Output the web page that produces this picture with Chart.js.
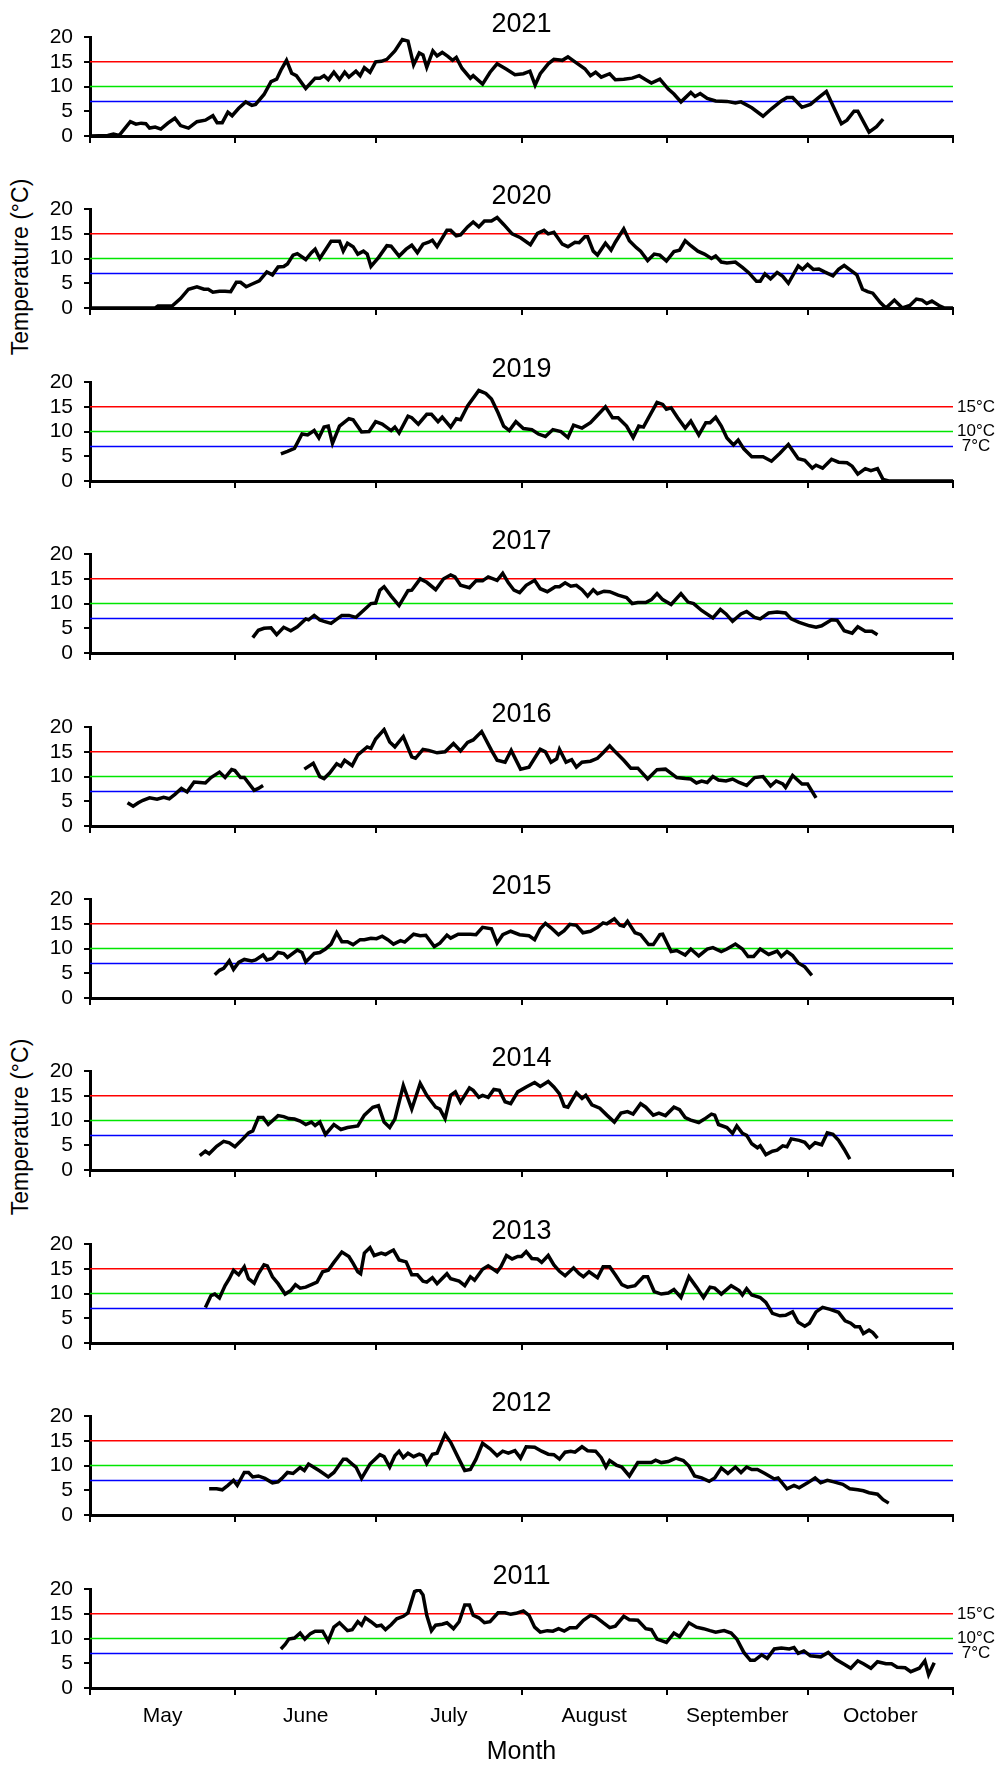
<!DOCTYPE html>
<html>
<head>
<meta charset="utf-8">
<script src="https://cdn.jsdelivr.net/npm/chart.js@4"></script>
<style>
  body { margin: 0; background: #fff; }
  #wrap { position: relative; width: 1000px; height: 1767px; overflow: hidden; font-family: "Liberation Sans", Arial, sans-serif; }
  #wrap canvas { position: absolute; left: 0; }
  .ylab { position: absolute; left: 20px; width: 0; height: 0; }
  .ylab span { position: absolute; transform: translate(-50%, -50%) rotate(-90deg); white-space: nowrap; font-size: 23px; color: #000; }
</style>
</head>
<body>
<div id="wrap">
  <div class="ylab" style="top:267px"><span>Temperature (°C)</span></div>
  <div class="ylab" style="top:1127px"><span>Temperature (°C)</span></div>
</div>
<script>
// daily water temperature, [days since 1 May, °C]
const y2021 = [[0,0],[3.8,0.1],[5,0.4],[6.2,0.1],[8.6,2.9],[9.8,2.4],[10.9,2.6],[11.9,2.5],[12.7,1.6],[13.9,1.8],[15.1,1.4],[16.6,2.6],[18.1,3.6],[19.3,2.1],[21,1.6],[22.8,2.9],[24.6,3.2],[26.2,4.1],[27.1,2.7],[28.2,2.7],[29.4,4.8],[30.3,4.1],[31.7,5.6],[33.2,6.9],[34.5,6.2],[35.3,6.4],[37.1,8.4],[38.6,11.0],[39.8,11.5],[40.7,13.3],[41.9,15.3],[43,12.7],[44,12.2],[46,9.6],[48,11.7],[49,11.7],[49.9,12.2],[50.8,11.4],[52,12.9],[53.2,11.4],[54.3,12.9],[55.2,11.9],[56.7,13.1],[57.6,12.2],[58.5,13.8],[59.7,12.9],[60.9,15.0],[62.1,15.1],[63.3,15.5],[65,17.2],[66.6,19.5],[67.8,19.2],[69,14.4],[70.2,16.8],[71,16.4],[71.8,13.9],[73.1,17.2],[74,16.2],[75.1,16.9],[76.3,16.1],[77.3,15.3],[78.1,15.9],[79.3,13.7],[81.1,11.7],[81.7,12.2],[83.7,10.5],[85.3,12.9],[86.8,14.6],[88.8,13.5],[90.6,12.4],[92.4,12.6],[93.8,13.1],[94.9,10.3],[96,12.6],[97.7,14.6],[98.9,15.5],[100.7,15.3],[101.9,16.0],[103.7,14.8],[105.5,13.6],[106.7,12.2],[107.8,12.9],[109,11.9],[110.8,12.6],[112,11.4],[113.8,11.5],[115.6,11.7],[117.1,12.2],[118.5,11.4],[119.7,10.7],[121.5,11.5],[123.3,9.5],[124.5,8.5],[126,6.9],[128.1,8.8],[129,8.0],[130.1,8.6],[131.6,7.6],[133.4,7.1],[135.8,7.0],[137.6,6.7],[138.8,6.9],[141.1,5.7],[143.5,4.0],[145.3,5.5],[147.4,7.1],[148.6,7.8],[149.8,7.8],[151.8,5.8],[153.6,6.4],[155.4,7.8],[157,9.0],[158.6,5.7],[160.2,2.5],[161.4,3.2],[162.9,5.0],[163.7,5.0],[166.1,0.8],[167.7,1.9],[169.1,3.4]];
const y2020 = [[0,0],[13.9,0],[14.5,0.4],[17.5,0.4],[19.3,1.9],[21,3.8],[22.8,4.3],[24.3,3.8],[25.2,3.8],[26.2,3.2],[27.6,3.4],[28.8,3.4],[30,3.3],[31.2,5.2],[32.1,5.2],[33.3,4.3],[34.7,4.9],[36.1,5.5],[37.7,7.3],[38.9,6.7],[40.1,8.3],[41.3,8.4],[42.1,8.9],[43.3,10.7],[44.2,11.0],[46,9.8],[47.2,11.2],[48,11.9],[49,10.0],[51.4,13.5],[53.2,13.5],[54,11.5],[54.9,13.1],[56.1,12.4],[57.1,10.9],[58.3,11.5],[59.1,10.9],[59.9,8.4],[61.5,10.2],[63.3,12.6],[64.2,12.5],[65.9,10.5],[67.4,11.9],[68.6,12.7],[69.8,11.2],[71,12.9],[72.2,13.3],[73,13.7],[74,12.4],[76.1,15.7],[76.9,15.7],[78.1,14.6],[79,14.8],[80.5,16.4],[81.7,17.4],[82.9,16.4],[84.1,17.6],[85.6,17.6],[86.8,18.3],[88.2,16.9],[90,15.0],[91.8,14.2],[93.9,12.8],[95.4,15.1],[96.8,15.7],[97.7,15.0],[98.9,15.3],[100.7,12.9],[101.9,12.4],[103.4,13.3],[104.3,13.2],[105.5,14.4],[106.1,14.4],[107.3,11.5],[108.2,10.7],[109.9,13.1],[111.1,11.7],[112,13.3],[113.8,16.0],[115,13.6],[116.5,12.2],[117.4,11.5],[118.9,9.6],[120.3,10.9],[121.5,10.7],[122.9,9.5],[124.5,11.4],[125.7,11.7],[126.9,13.6],[128.1,12.6],[129.6,11.5],[131,10.9],[132.5,10.0],[133.4,10.5],[134.6,9.3],[135.8,9.1],[137.6,9.3],[139.1,8.2],[140.5,7.1],[142.1,5.4],[142.9,5.4],[143.9,6.9],[145.1,5.9],[146.5,7.2],[147.7,6.4],[148.9,5.0],[151,8.5],[151.9,7.8],[153,8.8],[154.2,7.8],[155.4,7.9],[156.6,7.3],[158.4,6.5],[159.6,7.8],[160.8,8.6],[162.2,7.6],[163.5,6.7],[164.7,3.8],[165.8,3.3],[166.9,3.0],[168.5,1.1],[169.7,0],[171.5,1.6],[173.2,0],[174.8,0.5],[176.2,1.8],[177.4,1.6],[178.4,0.9],[179.5,1.4],[181,0.5],[182.2,0],[184,0]];
const y2019 = [[40.7,5.5],[42.1,6.0],[43.6,6.6],[45.2,9.5],[46.4,9.3],[47.8,10.2],[48.8,8.7],[49.9,10.9],[50.8,11.1],[51.7,7.6],[53.2,11.1],[55.2,12.6],[56.1,12.4],[57.9,9.9],[59.5,10.0],[60.9,12.0],[62.3,11.5],[64.2,10.2],[65,10.9],[65.9,9.7],[67.8,13.1],[68.6,12.8],[70,11.5],[71.8,13.5],[72.8,13.5],[74.2,12.0],[75.1,12.9],[76.9,10.9],[78.1,12.6],[79,12.4],[80.5,15.2],[82.9,18.3],[84.4,17.7],[85.6,16.6],[87,13.8],[88.2,11.1],[89.4,10.2],[90.8,12.0],[92.4,10.6],[94.2,10.4],[95.6,9.5],[97.1,9.0],[98.7,10.4],[100.4,10.0],[101.9,8.8],[103.1,11.3],[104.9,10.7],[106.7,11.8],[108.4,13.5],[109.9,15.0],[111.4,12.8],[112.6,12.8],[114.4,11.1],[115.8,8.8],[117,11.1],[118,10.9],[119.1,12.8],[120.9,15.9],[122.1,15.5],[122.9,14.5],[123.9,14.8],[125.3,12.8],[126.9,10.7],[128.1,12.1],[129.8,9.3],[131.3,11.8],[132.2,11.8],[133.4,12.9],[134.6,11.1],[135.8,8.7],[137.2,7.3],[138.2,8.3],[139.4,6.5],[141.1,4.9],[143.5,4.9],[145.3,4.0],[147.1,5.6],[148.9,7.4],[151,4.5],[152.4,4.2],[154,2.6],[154.8,3.2],[156.2,2.6],[158.1,4.4],[159.6,3.8],[161.4,3.7],[162.5,3.0],[163.7,1.4],[165.3,2.5],[166.5,2.1],[167.9,2.5],[169.1,0.3],[170.3,0],[184,0]];
const y2017 = [[34.7,3.1],[35.9,4.6],[37.1,5.0],[38.6,5.1],[39.8,3.7],[41.3,5.2],[42.8,4.5],[44.2,5.3],[46,6.9],[46.6,6.7],[47.8,7.6],[49,6.7],[49.9,6.4],[51.4,6.0],[53.7,7.6],[55.2,7.6],[56.7,7.2],[58.3,8.6],[59.9,10.0],[60.9,10.1],[61.8,12.7],[62.7,13.4],[64.2,11.5],[65.9,9.6],[67.8,12.6],[68.6,12.7],[70.4,15.0],[71.8,14.3],[73.7,12.8],[75.4,15.0],[76.9,15.8],[77.8,15.4],[79,13.7],[80.9,13.2],[82.3,14.6],[83.7,14.6],[84.9,15.4],[86.8,14.7],[88,16.1],[89.2,14.2],[90.4,12.7],[91.6,12.2],[93,13.7],[94.8,14.7],[96,13.0],[97.5,12.4],[99.2,13.4],[100.1,13.4],[101.3,14.2],[102.5,13.5],[103.7,13.7],[104.9,12.8],[106.1,11.5],[107.3,12.8],[108.2,12.0],[109.6,12.5],[110.8,12.4],[112.6,11.7],[114.4,11.2],[115.6,10.0],[116.8,10.2],[118.5,10.2],[119.7,10.8],[120.9,12.0],[122.1,10.8],[123.9,9.8],[126,12.0],[127.5,10.3],[128.7,10.0],[130.4,8.6],[132.8,7.1],[134.4,8.8],[135.6,7.9],[137,6.4],[138.8,7.9],[140,8.4],[141.7,7.2],[142.9,6.9],[144.7,8.1],[146.5,8.3],[148.3,8.1],[149.5,6.9],[151.2,6.2],[153.4,5.5],[154.8,5.2],[156,5.5],[158.1,6.7],[159.3,6.6],[160.8,4.5],[162.5,4.0],[163.7,5.3],[165.3,4.4],[166.7,4.4],[167.9,3.7]];
const y2016 = [[8,4.7],[9.2,4.0],[10.3,4.7],[11.3,5.2],[12.7,5.7],[14.3,5.4],[15.7,5.8],[16.9,5.5],[18.1,6.4],[19.5,7.6],[20.7,6.9],[22.2,8.9],[23.4,8.8],[24.6,8.7],[25.8,9.8],[27.6,10.9],[28.8,9.8],[30.2,11.4],[30.9,11.2],[32.1,9.8],[32.9,9.8],[35,7.2],[35.9,7.6],[36.9,8.2],[41,null],[45.7,11.5],[47.6,12.7],[49,10.0],[49.9,9.6],[51.1,10.7],[52.6,12.6],[53.5,12.1],[54.3,13.3],[55.9,12.2],[57.1,14.4],[59.1,16.0],[59.9,15.7],[60.9,17.6],[62.7,19.5],[63.9,17.0],[65,16.0],[66.8,18.1],[68.6,14.0],[69.4,13.7],[71,15.5],[72.2,15.3],[74,14.8],[75.7,15.0],[77.5,16.7],[79,15.2],[80.5,16.9],[81.7,17.4],[83.5,19.1],[85.6,15.3],[86.8,13.3],[88.5,12.9],[89.8,15.3],[91.8,11.5],[93.6,11.9],[96,15.5],[97.1,15.0],[98.3,12.9],[99.5,13.6],[100.1,15.5],[101.5,12.9],[102.7,13.4],[103.7,11.9],[104.9,12.9],[106.7,13.1],[108.2,13.7],[109.4,14.8],[110.8,16.2],[112,15.0],[113.8,13.3],[115.3,11.7],[116.8,11.7],[118.9,9.5],[120.9,11.4],[122.7,11.5],[125.1,9.8],[126.9,9.6],[128.1,9.5],[129.3,8.7],[130.4,9.1],[131.6,8.8],[132.8,10.0],[134,9.3],[135.6,9.1],[137,9.5],[138.4,8.8],[140,8.2],[141.7,9.8],[143.5,10.0],[145.1,8.1],[146.3,9.1],[147.7,8.5],[148.3,7.8],[149.8,10.2],[151.8,8.5],[153,8.5],[154.8,5.7]];
const y2015 = [[26.6,4.7],[27.6,5.6],[28.5,6.0],[29.7,7.5],[30.6,5.8],[31.7,7.2],[32.9,7.8],[34.5,7.5],[35.3,7.7],[36.9,8.7],[37.7,7.7],[38.9,8.0],[40.1,9.2],[41.3,9.0],[42.1,8.2],[44.2,9.7],[45.2,9.2],[46,7.3],[47.8,9.0],[49,9.2],[50.2,9.9],[51.4,10.9],[52.6,13.2],[53.7,11.4],[54.9,11.4],[56.1,10.8],[57.6,11.8],[58.5,11.8],[59.9,12.1],[61.1,12.0],[62.3,12.5],[63.5,11.8],[64.7,10.9],[66.2,11.6],[67.1,11.3],[69,12.9],[70.4,12.6],[71.6,12.7],[73.4,10.4],[74.6,11.1],[76.1,12.7],[76.9,12.1],[78.5,12.9],[81.1,12.9],[82.3,12.8],[83.7,14.3],[85.6,14.0],[86.8,11.1],[88,12.8],[89.7,13.5],[91.6,12.8],[93.6,12.6],[94.8,11.8],[96,14.0],[97.1,15.1],[98.3,14.2],[99.9,12.8],[101.1,13.6],[102.3,14.9],[103.7,14.7],[105.1,13.2],[106.7,13.5],[108.2,14.3],[109.4,15.2],[110.2,15.0],[111.8,16.0],[113,14.7],[113.8,14.5],[114.6,15.5],[116.2,13.2],[117.4,12.8],[119.1,10.8],[120.1,10.8],[121.5,12.8],[122.1,12.9],[123.9,9.4],[125.1,9.6],[126.9,8.7],[128.1,9.9],[129.8,8.5],[131.6,9.9],[132.8,10.2],[134.6,9.4],[135.8,9.9],[137.6,10.9],[139.1,9.9],[140.3,8.4],[141.5,8.4],[142.9,9.9],[144.7,8.8],[146.5,9.5],[147.4,8.4],[148.6,9.4],[149.8,8.6],[151,7.1],[152.4,6.3],[153.9,4.6]];
const y2014 = [[23.4,2.9],[24.6,3.8],[25.4,3.3],[27,4.8],[28.5,5.8],[29.7,5.5],[30.9,4.7],[32.3,6.0],[33.8,7.5],[34.7,7.9],[35.9,10.6],[36.9,10.6],[38,9.2],[40.1,11.0],[41.3,10.8],[42.4,10.4],[43.6,10.3],[44.8,9.9],[46,9.2],[47.2,9.7],[48,9.0],[49,9.7],[50.2,7.2],[52,9.2],[53.5,8.2],[54.9,8.6],[57.1,8.9],[58.5,11.1],[60.3,12.7],[61.5,13.0],[62.7,9.7],[63.9,8.6],[65,10.3],[66.8,17.1],[68.6,12.3],[70.4,17.5],[71.8,15.1],[73.7,12.7],[74.6,12.3],[75.7,10.4],[76.9,15.1],[77.9,15.8],[79,13.7],[80.9,16.6],[81.7,16.1],[82.9,14.7],[83.7,15.1],[84.9,14.7],[86.1,16.3],[87.3,16.1],[88.5,13.8],[89.7,13.4],[91.2,15.8],[93,16.8],[94.8,17.7],[96,16.9],[97.7,17.9],[98.9,16.8],[100.1,15.4],[101.1,12.9],[101.9,12.7],[103.7,15.6],[104.9,14.5],[105.7,15.1],[107,13.2],[108.7,12.5],[110.2,11.1],[111.8,9.7],[113.2,11.5],[114.6,11.8],[115.8,11.3],[117.4,13.4],[118.5,12.7],[120.1,11.1],[121.3,11.5],[122.7,11.0],[124.5,12.7],[125.7,12.2],[126.9,10.6],[128.1,10.1],[129.8,9.6],[131,10.3],[132.5,11.3],[133.2,11.1],[134,9.2],[135.8,8.6],[137,7.4],[137.9,8.9],[139.1,7.4],[140,7.0],[141.1,5.3],[142.3,4.5],[142.9,4.9],[144.1,3.1],[145.5,3.8],[146.5,4.0],[147.7,4.9],[148.6,4.7],[149.5,6.3],[151.2,6.0],[152.4,5.6],[153.4,4.5],[154.6,5.5],[156,5.1],[157.2,7.5],[158.4,7.2],[159.6,6.0],[160.8,4.2],[162,2.2]];
const y2013 = [[24.6,7.2],[25.8,9.6],[26.6,9.9],[27.6,9.1],[28.8,11.6],[29.7,13.0],[30.6,14.7],[31.7,13.8],[32.9,15.4],[33.8,13.0],[35,12.1],[35.9,14.0],[37.1,15.8],[37.8,15.6],[38.9,13.4],[40.1,12.0],[41.6,9.9],[42.8,10.6],[43.8,11.8],[44.8,11.1],[46,11.3],[47.2,11.8],[48.4,12.3],[49.6,14.4],[50.8,14.7],[52,16.3],[53.7,18.4],[55.2,17.5],[56.1,16.1],[57.1,14.4],[57.7,14.0],[58.5,18.2],[59.7,19.3],[60.6,17.7],[62.1,18.2],[63,17.9],[63.9,18.4],[64.7,18.8],[65.9,16.8],[67.4,16.4],[68.6,13.8],[69.8,13.8],[71,12.5],[71.8,12.3],[73,13.2],[74,12.0],[76.1,14.0],[76.9,13.0],[78.7,12.5],[79.9,11.6],[81.1,13.4],[82,12.7],[83.7,14.9],[84.9,15.6],[86.8,14.4],[87.6,15.4],[88.8,17.7],[90,17.0],[91.2,17.5],[92,17.5],[93,18.5],[94.2,17.1],[95.4,17.0],[96.3,16.3],[97.7,17.7],[98.9,15.8],[100.1,14.5],[101.3,13.6],[103.1,15.2],[104.3,14.0],[105.2,13.4],[106.4,14.4],[108.2,13.2],[109.4,15.4],[110.8,15.4],[112,13.8],[113.4,11.8],[114.6,11.3],[116.2,11.6],[118,13.4],[118.9,13.4],[120.3,10.4],[121.8,9.9],[123.3,10.1],[124.5,10.8],[126,9.2],[127.7,13.4],[129.3,11.3],[130.8,9.2],[132.2,11.3],[133.2,11.1],[134.6,9.9],[136.7,11.6],[138.4,10.6],[139.1,9.7],[140,11.0],[141.1,9.7],[142.9,9.2],[144.1,8.2],[145.5,6.0],[147.1,5.5],[148.3,5.6],[149.8,6.3],[151,4.2],[152.4,3.4],[153.4,4.0],[154.8,6.3],[156.2,7.2],[157.8,6.8],[159.6,6.2],[161,4.5],[162.2,4.0],[163.1,3.3],[164.1,3.3],[164.9,1.9],[166.1,2.6],[166.9,2.1],[167.9,1.0]];
const y2012 = [[25.4,5.3],[27,5.3],[28.2,5.1],[29.4,6.0],[30.6,7.0],[31.4,6.0],[32.9,8.6],[33.8,8.6],[34.7,7.7],[35.9,7.9],[37.3,7.4],[38.9,6.5],[40.1,6.7],[40.9,7.4],[42.1,8.6],[43.3,8.4],[44.8,9.6],[45.7,9.0],[46.6,10.3],[47.8,9.6],[49,8.9],[50.8,7.7],[52,8.6],[54,11.3],[54.7,11.3],[55.9,10.3],[56.7,9.7],[57.9,7.4],[59.7,10.3],[61.8,12.2],[62.7,11.8],[63.9,9.7],[65,12.0],[65.9,12.9],[66.8,11.6],[67.8,12.5],[69,11.8],[70.2,12.3],[71,12.0],[71.8,10.4],[73,12.3],[74,12.5],[75.7,16.3],[76.9,14.7],[78.5,11.6],[79.9,9.0],[81.1,9.2],[82.3,11.3],[83.7,14.5],[85.3,13.4],[86.8,12.0],[88,12.9],[89.2,12.5],[90.6,13.0],[91.8,11.5],[93,13.8],[94.8,13.7],[96.3,12.9],[97.7,12.3],[98.9,12.2],[100.1,11.3],[101.3,12.7],[102.5,12.9],[103.4,12.7],[104.9,13.8],[106.1,13.0],[107.8,12.9],[109,11.6],[110,9.7],[110.8,11.0],[112.2,10.1],[113.4,9.7],[115,7.9],[116.8,10.6],[118.5,10.6],[119.7,10.6],[120.6,11.1],[121.8,10.6],[123.3,10.8],[124.9,11.5],[126.5,11.0],[127.7,9.9],[128.9,7.9],[130.4,7.5],[132,6.8],[133.2,7.5],[134.6,9.5],[136,8.4],[137.6,9.7],[138.8,8.6],[140,9.7],[141.1,9.2],[142.3,9.2],[143.9,8.4],[145.9,7.3],[146.7,7.5],[148.6,5.3],[150.1,6.0],[151.2,5.5],[153,6.5],[154.6,7.5],[155.8,6.5],[157.2,7.0],[158.6,6.7],[160.5,6.2],[162,5.3],[163.7,5.1],[164.9,4.9],[166.1,4.5],[167.9,4.2],[169.1,3.1],[170.3,2.4]];
const y2011 = [[40.7,7.9],[41.6,8.8],[42.4,9.9],[43.6,10.1],[44.8,11.1],[45.8,9.9],[47,11.0],[48,11.5],[49.6,11.5],[50.8,9.5],[52,12.3],[53.2,13.2],[54.9,11.6],[55.9,11.8],[57.1,13.4],[57.9,12.7],[58.7,14.2],[59.9,13.4],[61.1,12.5],[62.1,12.7],[63,11.8],[64.2,12.8],[65.4,14.0],[66.8,14.5],[67.8,15.2],[69.2,19.5],[70.2,19.9],[71,18.8],[71.8,14.7],[72.8,11.6],[73.7,12.7],[75.1,12.9],[76.1,13.2],[77.5,12.0],[78.7,13.4],[79.9,16.8],[80.9,16.8],[81.7,14.7],[82.9,14.2],[84.1,13.2],[85.3,13.4],[87,15.2],[88.5,15.2],[89.7,14.9],[90.8,15.1],[92.4,15.6],[93.6,14.7],[94.8,12.3],[96,11.3],[97.5,11.6],[98.7,11.5],[99.9,12.0],[101.1,11.5],[102.3,12.2],[103.7,12.2],[105.2,13.7],[106.7,14.7],[107.8,14.4],[109.4,13.2],[110.8,12.2],[112,12.5],[113.8,14.5],[115,13.8],[116.8,13.7],[118.5,12.0],[119.7,11.8],[120.9,9.9],[122.9,9.2],[124.5,11.1],[125.7,10.4],[127.7,13.2],[129.3,12.3],[130.8,12.0],[132.2,11.6],[133.4,11.3],[135.2,11.6],[136.7,11.1],[137.9,9.9],[139.4,7.2],[140.8,5.6],[141.7,5.6],[143.2,6.7],[144.4,6.0],[145.9,7.9],[147.4,8.1],[149.1,7.9],[150.1,8.2],[151,7.0],[152.2,7.5],[153.6,6.5],[155.8,6.3],[157.4,7.2],[159,5.8],[160.8,4.8],[162.2,4.0],[163.7,5.5],[164.9,4.9],[166.5,4.0],[167.9,5.3],[169.7,4.9],[170.9,4.9],[172.1,4.2],[173.8,4.1],[175,3.3],[176.8,4.0],[178,5.5],[178.8,2.7],[180,5.1]];

const years = ['2021', '2020', '2019', '2017', '2016', '2015', '2014', '2013', '2012', '2011'];
const series = [y2021, y2020, y2019, y2017, y2016, y2015, y2014, y2013, y2012, y2011];
const monthNames = ['May', 'June', 'July', 'August', 'September', 'October'];
const monthStarts = [0, 31, 61, 92, 123, 153, 184];
const thresholds = [15, 10, 7];
const thresholdColors = ['#ff0000', '#00e600', '#0000ff'];
const labelledYears = ['2019', '2011'];

const FONT = '"Liberation Sans", Arial, sans-serif';
Chart.defaults.font.family = FONT;
Chart.defaults.color = '#000';

// 15°C / 10°C / 7°C text at the right end of the lines
const thresholdLabels = {
    id: 'thresholdLabels',
    afterDraw(chart) {
        if (!labelledYears.includes(chart.options.plugins.title.text)) return;
        const { ctx, chartArea } = chart;
        const y = chart.scales.y;
        ctx.save();
        ctx.font = '17px ' + FONT;
        ctx.fillStyle = '#000';
        ctx.textAlign = 'center';
        ctx.textBaseline = 'middle';
        thresholds.forEach(t => ctx.fillText(t + '°C', chartArea.right + 23, y.getPixelForValue(t)));
        ctx.restore();
    }
};

const wrap = document.getElementById('wrap');

years.forEach((year, i) => {
    const last = i === years.length - 1;
    const top = Math.round(i * 172.4);
    const h = last ? 1767 - top : 172;
    const canvas = document.createElement('canvas');
    canvas.width = 1000;
    canvas.height = h;
    canvas.style.top = top + 'px';
    wrap.appendChild(canvas);

    const datasets = [{
        data: series[i].map(p => ({ x: p[0], y: p[1] })),
        borderColor: '#000',
        borderWidth: 3.5,
        pointRadius: 0,
        tension: 0,
        spanGaps: false,
        order: 0,
        xAxisID: 'x',
        yAxisID: 'y'
    }];
    thresholds.forEach((t, k) => datasets.push({
        data: [{ x: monthStarts[0], y: t }, { x: monthStarts[monthStarts.length - 1], y: t }],
        borderColor: thresholdColors[k],
        borderWidth: 1.5,
        pointRadius: 0,
        order: 1,
        xAxisID: 'x',
        yAxisID: 'y'
    }));

    const scales = {
        x: {
            type: 'linear',
            min: 0,
            max: 184,
            afterBuildTicks: s => { s.ticks = monthStarts.map(v => ({ value: v })); },
            ticks: { display: false, autoSkip: false },
            grid: { drawOnChartArea: false, tickLength: 7, color: '#000', lineWidth: 2 },
            border: { color: '#000', width: 3 },
            afterFit: s => { s.height = last ? 7 : 36; }
        },
        y: {
            min: 0,
            max: 20,
            ticks: { stepSize: 5, autoSkip: false, padding: 11, color: '#000', font: { size: 21 } },
            grid: { drawOnChartArea: false, tickLength: 6, color: '#000', lineWidth: 2 },
            border: { color: '#000', width: 3 },
            afterFit: s => { s.width = 90; }
        }
    };
    if (last) {
        scales.months = {
            type: 'linear',
            position: 'bottom',
            weight: 1,
            min: 0,
            max: 184,
            afterBuildTicks: s => {
                s.ticks = monthNames.map((m, k) => ({ value: (monthStarts[k] + monthStarts[k + 1]) / 2 }));
            },
            ticks: {
                callback: (v, k) => monthNames[k],
                padding: 9, color: '#000', font: { size: 21 }, maxRotation: 0, autoSkip: false
            },
            grid: { display: false, drawTicks: false },
            border: { display: false },
            title: { display: true, text: 'Month', color: '#000', font: { size: 25 }, padding: { top: 0, bottom: 0 } },
            afterFit: s => { s.height = 72; }
        };
    }

    new Chart(canvas, {
        type: 'line',
        data: { datasets: datasets },
        options: {
            responsive: false,
            animation: false,
            devicePixelRatio: 1,
            layout: { padding: { left: 0, right: 47, top: 0, bottom: 0 } },
            scales: scales,
            plugins: {
                legend: { display: false },
                tooltip: { enabled: false },
                title: {
                    display: true,
                    fullSize: false,
                    text: year,
                    color: '#000',
                    font: { size: 27, weight: 'normal', lineHeight: 0.93 },
                    padding: { top: 12, bottom: 0 }
                }
            }
        },
        plugins: [thresholdLabels]
    });
});
</script>
</body>
</html>
